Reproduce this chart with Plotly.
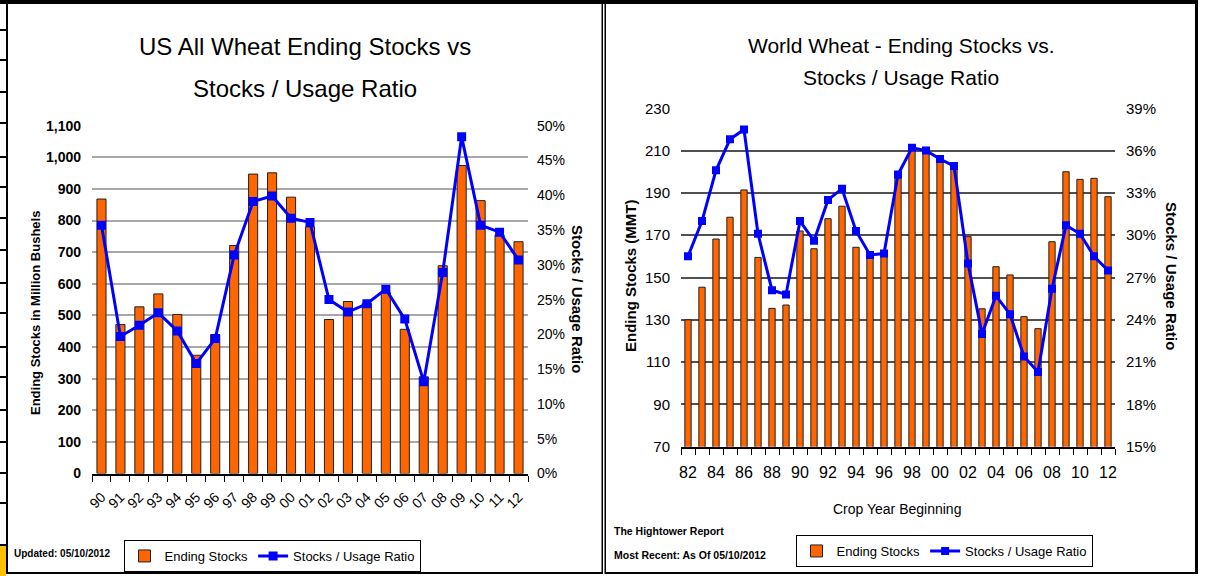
import plotly.graph_objects as go

# ---------------- data ----------------
us_years = list(range(1990, 2013))
us_labels = ['90', '91', '92', '93', '94', '95', '96', '97', '98', '99', '00', '01',
             '02', '03', '04', '05', '06', '07', '08', '09', '10', '11', '12']
us_stocks = [868, 471, 527, 568, 503, 374, 439, 721, 947, 951, 874, 780,
             487, 544, 538, 572, 456, 306, 657, 974, 863, 754, 733]
us_ratio = [35.7, 19.7, 21.3, 23.1, 20.5, 15.8, 19.4, 31.4, 39.1, 39.9, 36.7, 36.1,
            25.0, 23.2, 24.4, 26.5, 22.2, 13.2, 28.9, 48.4, 35.7, 34.7, 30.7]

world_years = list(range(1982, 2013))
world_tick_years = list(range(1982, 2013, 2))
world_tick_labels = ['82', '84', '86', '88', '90', '92', '94', '96', '98', '00',
                     '02', '04', '06', '08', '10', '12']
world_stocks = [130, 145.4, 168.2, 178.5, 191.4, 159.5, 135.4, 137, 172, 163.6,
                177.8, 183.7, 164.3, 160.5, 160, 196.9, 210.3, 211, 204.8, 204,
                169.3, 135.2, 155.1, 151.2, 131.5, 125.8, 166.9, 200, 196.4, 196.9, 188.2]
world_ratio = [28.5, 31.0, 34.6, 36.8, 37.5, 30.1, 26.1, 25.8, 31.0, 29.6,
               32.5, 33.3, 30.3, 28.6, 28.7, 34.3, 36.2, 36.0, 35.4, 34.9,
               28.0, 23.0, 25.7, 24.4, 21.4, 20.3, 26.2, 30.7, 30.1, 28.5, 27.5]

# ---------------- styling ----------------
W, H = 1212, 576
NARROW = "Liberation Sans Narrow, Arial Narrow, Liberation Sans, Arial, sans-serif"
ARIAL = "Liberation Sans, Arial, sans-serif"
ORANGE = "#FF6600"
BLUE = "#0000FF"


def px(x):
    return x / W


def py(y):
    return 1 - y / H


fig = go.Figure()

# Left chart
fig.add_trace(go.Bar(x=us_years, y=us_stocks, name="Ending Stocks", width=0.48,
                     marker=dict(color=ORANGE, line=dict(color="#202020", width=1)),
                     xaxis="x", yaxis="y", legend="legend"))
fig.add_trace(go.Scatter(x=us_years, y=us_ratio, name="Stocks / Usage Ratio",
                         mode="lines+markers",
                         line=dict(color=BLUE, width=3),
                         marker=dict(symbol="square", size=9, color=BLUE),
                         xaxis="x", yaxis="y2", legend="legend"))

# Right chart
fig.add_trace(go.Bar(x=world_years, y=world_stocks, name="Ending Stocks", width=0.45,
                     marker=dict(color=ORANGE, line=dict(color="#202020", width=1)),
                     xaxis="x3", yaxis="y3", legend="legend2"))
fig.add_trace(go.Scatter(x=world_years, y=world_ratio, name="Stocks / Usage Ratio",
                         mode="lines+markers",
                         line=dict(color=BLUE, width=3),
                         marker=dict(symbol="square", size=8, color=BLUE),
                         xaxis="x3", yaxis="y4", legend="legend2"))

left_dom_x = [px(92), px(528)]
left_dom_y = [py(473.5), py(125.7)]
right_dom_x = [px(681), px(1115)]
right_dom_y = [py(446.7), py(108.3)]

fig.update_layout(
    template="none",
    width=W, height=H,
    margin=dict(l=0, r=0, t=0, b=0),
    paper_bgcolor="white", plot_bgcolor="rgba(0,0,0,0)",
    font=dict(family=NARROW, color="black", size=14),
    xaxis=dict(domain=left_dom_x, anchor="y", range=[1989.5, 2012.5],
               tickmode="array", tickvals=us_years, ticktext=us_labels,
               tickangle=-45, ticks="", ticklabelstandoff=8,
               tickfont=dict(family=NARROW, size=14),
               showline=True, linecolor="black", linewidth=2,
               showgrid=False, zeroline=False,
               minor=dict(tickmode="linear", tick0=1989.5, dtick=1, ticks="outside",
                          ticklen=6, tickcolor="black", tickwidth=1, showgrid=False)),
    yaxis=dict(domain=left_dom_y, anchor="x", range=[0, 1100], dtick=100, tick0=0,
               tickformat=",", ticks="", ticklabelstandoff=10,
               tickfont=dict(family=NARROW, size=14, weight="bold"),
               showgrid=True, gridcolor="#A8A8A8", gridwidth=1.5,
               showline=False, zeroline=False),
    yaxis2=dict(overlaying="y", anchor="x", side="right", range=[0, 50], dtick=5, tick0=0,
                ticksuffix="%", ticks="", ticklabelstandoff=8,
                tickfont=dict(family=NARROW, size=14),
                showgrid=False, zeroline=False, showline=False),
    xaxis3=dict(domain=right_dom_x, anchor="y3", range=[1981.5, 2012.5],
                tickmode="array", tickvals=world_tick_years, ticktext=world_tick_labels,
                tickangle=0, ticks="", ticklabelstandoff=10,
                tickfont=dict(family=NARROW, size=16),
                showline=True, linecolor="black", linewidth=2,
                showgrid=False, zeroline=False,
                minor=dict(tickmode="linear", tick0=1981.5, dtick=1, ticks="outside",
                           ticklen=6, tickcolor="black", tickwidth=1, showgrid=False)),
    yaxis3=dict(domain=right_dom_y, anchor="x3", range=[70, 230], dtick=20, tick0=70,
                ticks="", ticklabelstandoff=10,
                tickfont=dict(family=NARROW, size=15),
                showgrid=True, gridcolor="#505050", gridwidth=1.5,
                showline=False, zeroline=False),
    yaxis4=dict(overlaying="y3", anchor="x3", side="right", range=[15, 39], dtick=3, tick0=15,
                ticksuffix="%", ticks="", ticklabelstandoff=10,
                tickfont=dict(family=NARROW, size=15),
                showgrid=False, zeroline=False, showline=False),
    legend=dict(orientation="h", x=px(272), y=py(540), xanchor="center", yanchor="top",
                bgcolor="white", bordercolor="black", borderwidth=1,
                font=dict(family=NARROW, size=13), itemwidth=30,
                tracegroupgap=0),
    legend2=dict(orientation="h", x=px(944), y=py(535), xanchor="center", yanchor="top",
                 bgcolor="white", bordercolor="black", borderwidth=1,
                 font=dict(family=NARROW, size=13), itemwidth=30,
                 tracegroupgap=0),
    showlegend=True,
    bargap=0.5,
)

ann = []


def text(t, x, y, size, family=NARROW, weight="normal", xanchor="center", angle=0):
    ann.append(dict(text=t, x=px(x), y=py(y), xref="paper", yref="paper",
                    xanchor=xanchor, yanchor="middle", showarrow=False,
                    textangle=angle,
                    font=dict(family=family, size=size, weight=weight, color="black")))


# titles
text("US All Wheat Ending Stocks vs", 305, 47, 24)
text("Stocks / Usage Ratio", 305, 88, 24)
text("World Wheat - Ending Stocks vs.", 901, 45, 21)
text("Stocks / Usage Ratio", 901, 78, 21)
# axis titles
text("Ending Stocks in Million Bushels", 35, 313, 13, ARIAL, "bold", angle=-90)
text("Stocks / Usage Ratio", 578, 299, 15, ARIAL, "bold", angle=90)
text("Ending Stocks (MMT)", 630, 276, 15, ARIAL, "bold", angle=-90)
text("Stocks / Usage Ratio", 1172, 276, 15, ARIAL, "bold", angle=90)
text("Crop Year Beginning", 897, 509, 14)
# footnotes
text("Updated: 05/10/2012", 12, 553, 10, NARROW, "bold", xanchor="left")
text("The Hightower Report", 612, 531, 10.5, NARROW, "bold", xanchor="left")
text("Most Recent: As Of 05/10/2012", 612, 555, 10.5, NARROW, "bold", xanchor="left")

fig.update_layout(annotations=ann)

# panel borders and frame decoration
shapes = []


def rect(x0, y0, x1, y1, fill=None, lw=0, lc="black"):
    shapes.append(dict(type="rect", xref="paper", yref="paper",
                       x0=px(x0), x1=px(x1), y0=py(y1), y1=py(y0),
                       fillcolor=fill if fill else "rgba(0,0,0,0)",
                       line=dict(width=lw, color=lc), layer="above"))


rect(0, 0, 1198, 4, fill="black")             # top frame
rect(6, 0, 8, 574, fill="black")              # left frame of left panel
rect(6, 572, 603, 574, fill="black")          # bottom left panel
rect(601.5, 0, 603, 574, fill="black")        # right edge left panel
rect(604.5, 0, 606, 574, fill="black")        # left edge right panel
rect(605, 572, 1198, 574, fill="black")       # bottom right panel
rect(1195, 0, 1198, 574, fill="black")        # right edge right panel
# spreadsheet strip at far left
for yy in [30, 60, 92, 123, 157, 187, 218, 250, 283, 313, 347, 377, 410, 442, 473, 503, 545]:
    rect(0, yy - 1, 6, yy + 1, fill="black")
rect(0, 546, 6, 576, fill="#FFC000")

fig.update_layout(shapes=shapes)

fig.write_html("out.html", config={"displayModeBar": False},
               post_script="document.body.style.margin='0';document.body.style.padding='0';")
